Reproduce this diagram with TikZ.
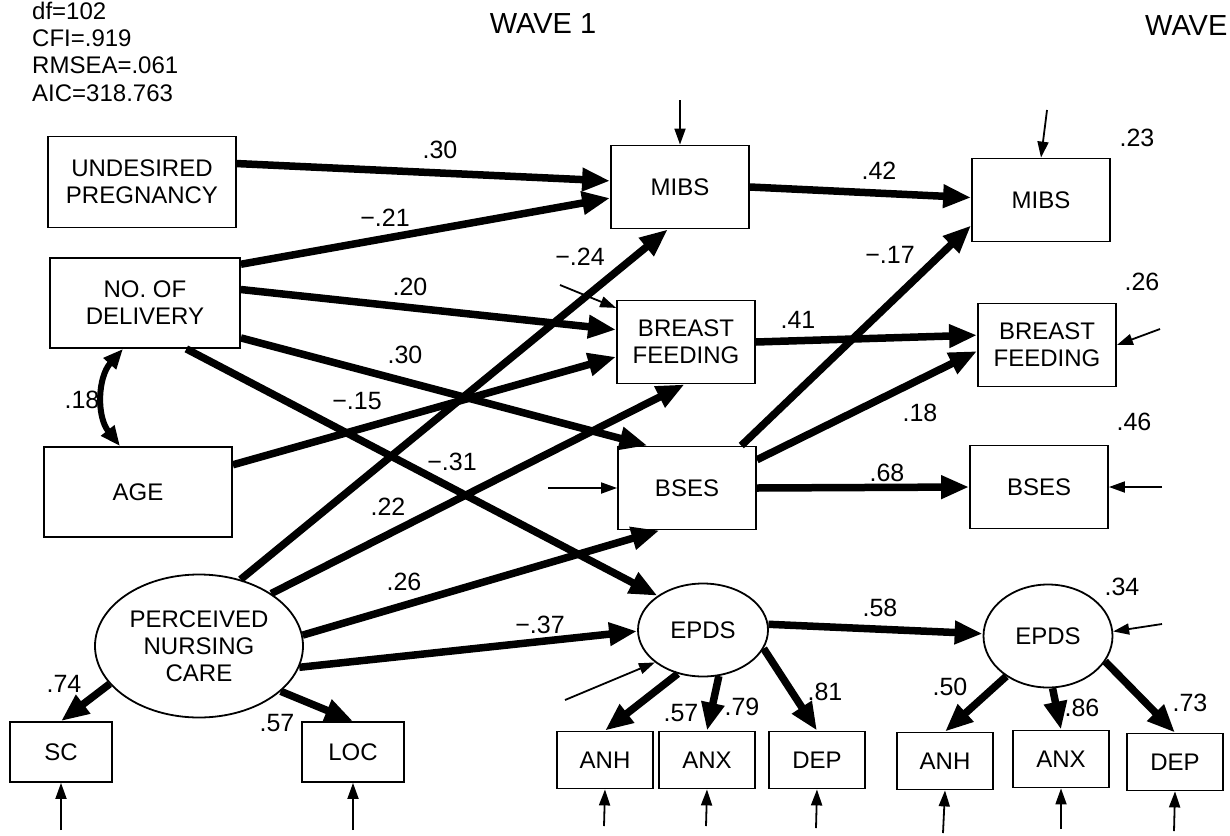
\documentclass[tikz,border=0pt]{standalone}
\usepackage{fontspec}
\setmainfont{Liberation Sans}
\usetikzlibrary{arrows.meta,positioning,shapes.geometric,calc}

\begin{document}
\begin{tikzpicture}[x=1pt,y=-1pt,
  semobs/.style={draw,line width=1.8pt,inner sep=0pt,align=center,
    font=\fontsize{24}{27}\selectfont},
  semlat/.style={semobs,ellipse},
  semwave/.style={semobs,minimum width=138pt,minimum height=83pt},
  semind/.style={semobs,minimum width=96pt,minimum height=57pt},
  sempath/.style={line width=7.5pt,-{Triangle[length=28pt,width=22pt]}},
  semcov/.style={line width=6pt,{Triangle[length=20pt,width=16pt]}-{Triangle[length=20pt,width=16pt]}},
  semerr/.style={line width=1.8pt,-{Triangle[length=16pt,width=11pt]}},
  semcoef/.style={font=\fontsize{25}{27}\selectfont},
  semfit/.style={font=\fontsize{24}{27.2}\selectfont,align=left,anchor=north west,inner sep=0pt}
]
  \useasboundingbox (0,0) rectangle (1230,835);
  % Fit indices and wave titles
  \node[semfit] (fit) at (32,2) {df=102\\CFI=.919\\RMSEA=.061\\AIC=318.763};
  \node[font=\fontsize{29}{32}\selectfont] (wave1) at (543,24) {WAVE 1};
  \node[font=\fontsize{29}{32}\selectfont,anchor=west,inner sep=0pt] (wave2) at (1145,26) {WAVE};
  % Exogenous variables
  \node[semobs,minimum width=188pt,minimum height=91pt] (undes) at (142,182) {UNDESIRED\\PREGNANCY};
  \node[semobs,minimum width=190pt,minimum height=90pt] (nodel) at (145,303) {NO. OF\\DELIVERY};
  \node[semobs,minimum width=188pt,minimum height=90pt] (age) at (138,492) {AGE};
  \node[semlat,minimum width=208pt,minimum height=143pt] (pnc) at (199,646) {PERCEIVED\\NURSING\\CARE};
  \node[semobs,minimum width=102pt,minimum height=60pt] (sc) at (61,752) {SC};
  \node[semobs,minimum width=102pt,minimum height=60pt] (loc) at (353,752) {LOC};
  % Wave 1
  \node[semwave] (mibsA) at (680,187) {MIBS};
  \node[semwave] (bfA) at (686,342) {BREAST\\FEEDING};
  \node[semwave] (bsesA) at (687,488) {BSES};
  \node[semlat,minimum width=130pt,minimum height=93pt] (epdsA) at (703,630) {EPDS};
  \node[semind] (anhA) at (605,760) {ANH};
  \node[semind] (anxA) at (707,760) {ANX};
  \node[semind] (depA) at (817,760) {DEP};
  % Wave 2
  \node[semwave] (mibsB) at (1041,200) {MIBS};
  \node[semwave] (bfB) at (1047,345) {BREAST\\FEEDING};
  \node[semwave] (bsesB) at (1039,487) {BSES};
  \node[semlat,minimum width=129pt,minimum height=103pt] (epdsB) at (1048,636) {EPDS};
  \node[semind] (anhB) at (945,761) {ANH};
  \node[semind] (anxB) at (1061,759) {ANX};
  \node[semind] (depB) at (1175,762) {DEP};

  % Paths into wave 1
  \draw[sempath] (undes.11) -- (mibsA.175);
  \draw[sempath] (nodel.22) -- (mibsA.189);
  \draw[sempath] (nodel.8) -- (bfA.170);
  \draw[sempath] (nodel.-20) -- (bsesA.133);
  \draw[sempath] (nodel.-48) -- (epdsA.143);
  \draw[sempath] (age.16) -- (bfA.192);
  \draw[sempath] (pnc.58) -- (mibsA.254);
  \draw[sempath] (pnc.36) -- (bfA.268);
  \draw[sempath] (pnc.6) -- (bsesA.237);
  \draw[sempath] (pnc.-12) -- (epdsA.181);
  \draw[semcov] ([xshift=-22pt]nodel.south) to[bend right=40] ([xshift=-18pt]age.north);
  % Measurement of nursing care
  \draw[sempath] (pnc.203) -- (sc.north);
  \draw[sempath] (pnc.331) -- (loc.north);
  % Wave 1 to wave 2
  \draw[sempath] (mibsA.east) -- (mibsB.178);
  \draw[sempath] (bfA.east) -- (bfB.172);
  \draw[sempath] (bsesA.38) -- (mibsB.200);
  \draw[sempath] (bsesA.22) -- (bfB.185);
  \draw[sempath] (bsesA.east) -- (bsesB.west);
  \draw[sempath] (epdsA.5) -- (epdsB.178);
  % EPDS indicators
  \draw[sempath] (epdsA.240) -- (anhA.north);
  \draw[sempath] (epdsA.289) -- (anxA.north);
  \draw[sempath] (epdsA.343) -- (depA.north);
  \draw[sempath] (epdsB.224) -- (anhB.north);
  \draw[sempath] (epdsB.275) -- (anxB.north);
  \draw[sempath] (epdsB.336) -- (depB.north);

  % Error terms
  \coordinate (mibsA-e) at (680,100);
  \coordinate (bfA-e) at (560,285);
  \coordinate (bsesA-e) at (548,488);
  \coordinate (epdsA-e) at (565,700);
  \coordinate (mibsB-e) at (1047,110);
  \coordinate (bfB-e) at (1160,329);
  \coordinate (bsesB-e) at (1162,487);
  \coordinate (epdsB-e) at (1162,624);
  \coordinate (sc-e) at (61,830);
  \coordinate (loc-e) at (353,830);
  \coordinate (anhA-e) at (604,826);
  \coordinate (anxA-e) at (706,826);
  \coordinate (depA-e) at (816,828);
  \coordinate (anhB-e) at (943,833);
  \coordinate (anxB-e) at (1061,829);
  \coordinate (depB-e) at (1174,831);
  \draw[semerr] (mibsA-e) -- (mibsA.north);
  \draw[semerr] (bfA-e) -- (bfA.154);
  \draw[semerr] (bsesA-e) -- (bsesA.west);
  \draw[semerr] (epdsA-e) -- (epdsA.214);
  \draw[semerr] (mibsB-e) -- (mibsB.north);
  \draw[semerr] (bfB-e) -- (bfB.east);
  \draw[semerr] (bsesB-e) -- (bsesB.east);
  \draw[semerr] (epdsB-e) -- (epdsB.4);
  \draw[semerr] (sc-e) -- (sc.south);
  \draw[semerr] (loc-e) -- (loc.south);
  \draw[semerr] (anhA-e) -- (anhA.south);
  \draw[semerr] (anxA-e) -- (anxA.south);
  \draw[semerr] (depA-e) -- (depA.south);
  \draw[semerr] (anhB-e) -- (anhB.south);
  \draw[semerr] (anxB-e) -- (anxB.south);
  \draw[semerr] (depB-e) -- (depB.south);

  % Coefficients
  \node[semcoef] (cUpMibs) at (440,150) {.30};
  \node[semcoef] (cNodMibs) at (385,218) {−.21};
  \node[semcoef] (cNodBf) at (410,287) {.20};
  \node[semcoef] (cNodBses) at (405,355) {.30};
  \node[semcoef] (cAgeBf) at (357,401) {−.15};
  \node[semcoef] (cNodEpds) at (452,462) {−.31};
  \node[semcoef] (cPncBf) at (388,507) {.22};
  \node[semcoef] (cPncBses) at (404,582) {.26};
  \node[semcoef] (cPncEpds) at (540,625) {−.37};
  \node[semcoef] (cPncMibs) at (580,257) {−.24};
  \node[semcoef] (cCov) at (82,400) {.18};
  \node[semcoef] (cSc) at (64,684) {.74};
  \node[semcoef] (cLoc) at (277,723) {.57};
  \node[semcoef] (cMibs) at (879,171) {.42};
  \node[semcoef] (cBf) at (798,320) {.41};
  \node[semcoef] (cBsesMibs) at (890,255) {−.17};
  \node[semcoef] (cBsesBf) at (920,413) {.18};
  \node[semcoef] (cBses) at (887,473) {.68};
  \node[semcoef] (cEpds) at (880,608) {.58};
  \node[semcoef] (cAnhA) at (681,713) {.57};
  \node[semcoef] (cAnxA) at (742,707) {.79};
  \node[semcoef] (cDepA) at (825,692) {.81};
  \node[semcoef] (cAnhB) at (950,687) {.50};
  \node[semcoef] (cAnxB) at (1082,708) {.86};
  \node[semcoef] (cDepB) at (1190,703) {.73};
  % Explained variance
  \node[semcoef] (rMibs) at (1137,138) {.23};
  \node[semcoef] (rBf) at (1142,282) {.26};
  \node[semcoef] (rBses) at (1134,422) {.46};
  \node[semcoef] (rEpds) at (1122,587) {.34};
\end{tikzpicture}
\end{document}
